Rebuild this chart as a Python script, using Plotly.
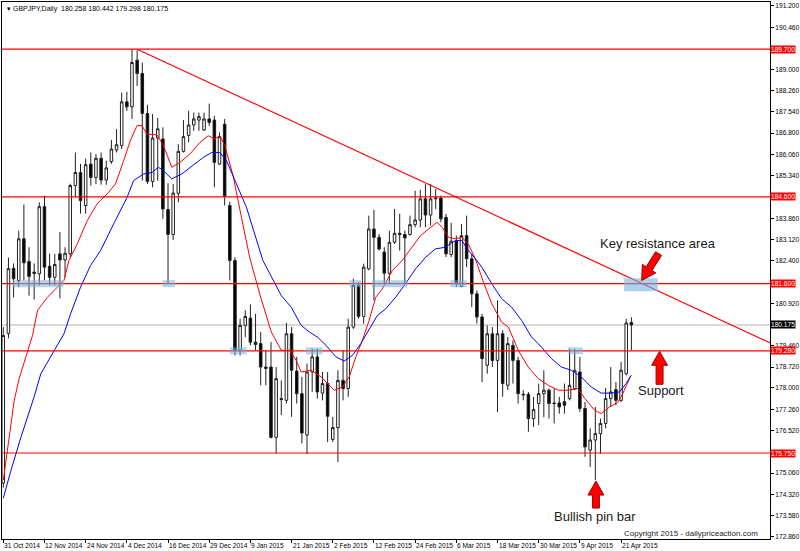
import math
import plotly.graph_objects as go

# ---- candles (one per trading day, 31 Oct 2014 .. 23 Apr 2015) ----
opens = [174.71, 179.88, 182.13, 181.71, 183.15, 182.37, 181.95, 181.94, 184.26, 182.2,
         181.82, 182.63, 182.42, 182.63, 184.99, 185.44, 184.3, 185.73, 185.27, 185.93,
         185.18, 185.82, 186.22, 186.37, 187.88, 187.71, 189.32, 188.86, 187.48, 185.13,
         186.63, 186.6, 184.16, 183.3, 184.72, 186.17, 186.72, 187.08, 187.25, 186.91,
         187.29, 187.25, 185.73, 187.11, 184.3, 182.4, 179.3, 180.16, 180.41, 179.58,
         179.53, 178.72, 178.72, 176.29, 177.63, 177.57, 179.87, 178.58, 177.8, 176.37,
         178.55, 179.07, 177.82, 178.15, 176.22, 176.63, 178.26, 177.98, 180.1, 181.54,
         180.47, 182.11, 183.49, 183.2, 182.69, 181.96, 183.03, 183.34, 183.3, 183.3,
         183.64, 183.8, 184.53, 183.97, 184.53, 184.56, 183.89, 182.61, 183.07, 181.5,
         183.26, 182.46, 181.25, 180.45, 178.78, 179.87, 178.95, 179.87, 178.09, 179.47,
         178.95, 177.78, 177.78, 176.94, 177.46, 177.8, 177.92, 177.48, 177.48, 177.52,
         177.63, 177.97, 178.55, 177.29, 175.85, 176.2, 176.42, 176.77, 177.63, 177.94,
         177.57, 178.49, 180.258]
highs = [180.1, 182.5, 182.3, 183.43, 184.33, 182.86, 182.3, 184.41, 184.64, 182.64,
         182.63, 183.38, 182.86, 185.05, 186.13, 185.74, 185.92, 186.13, 186.08, 186.13,
         185.85, 186.56, 186.94, 188.2, 188.23, 189.7, 189.66, 189.24, 187.78, 187.46,
         187.33, 187.0, 185.07, 185.04, 186.42, 187.25, 187.57, 187.51, 187.51, 187.51,
         187.82, 187.4, 186.82, 187.29, 184.43, 182.51, 180.39, 180.68, 180.88, 180.56,
         179.93, 179.3, 179.58, 178.72, 178.26, 180.24, 180.1, 179.07, 178.38, 178.84,
         179.36, 179.36, 178.55, 178.55, 177.0, 178.61, 179.3, 180.39, 181.77, 181.65,
         182.29, 183.95, 184.15, 183.32, 182.86, 183.43, 184.18, 184.01, 183.43, 183.95,
         184.81, 184.84, 185.04, 185.04, 184.87, 184.64, 184.01, 183.7, 183.26, 183.66,
         183.95, 182.63, 181.37, 180.56, 180.16, 180.1, 181.02, 179.99, 179.76, 179.64,
         179.07, 177.92, 177.86, 177.69, 178.15, 178.61, 177.98, 177.98, 177.69, 178.15,
         179.35, 179.35, 179.07, 177.52, 176.6, 177.34, 176.94, 178.0, 178.72, 178.2,
         178.9, 180.39, 180.442]
lows = [174.55, 179.71, 181.12, 181.48, 181.71, 181.19, 181.05, 181.54, 181.71, 181.54,
        181.54, 181.09, 181.82, 182.51, 184.58, 184.02, 184.02, 184.99, 185.04, 185.02,
        185.02, 185.74, 186.13, 186.25, 187.57, 187.29, 188.43, 185.16, 185.05, 184.93,
        185.16, 183.84, 181.6, 183.11, 184.41, 186.13, 186.48, 186.88, 186.88, 186.88,
        187.05, 184.93, 185.7, 184.3, 181.71, 179.12, 179.12, 179.75, 179.47, 179.3,
        178.09, 178.09, 176.25, 175.74, 177.06, 177.46, 177.0, 177.46, 176.08, 175.71,
        177.86, 177.63, 177.57, 176.13, 176.13, 175.44, 177.57, 177.69, 180.04, 180.4,
        180.22, 182.06, 181.02, 182.74, 181.6, 181.6, 182.97, 182.74, 181.6, 183.26,
        183.55, 183.55, 183.55, 183.61, 184.18, 183.72, 182.52, 182.52, 181.48, 181.48,
        182.17, 180.79, 180.22, 178.2, 178.49, 178.72, 177.17, 177.69, 177.92, 178.15,
        177.46, 177.57, 176.48, 176.65, 176.71, 176.99, 176.94, 176.77, 177.11, 177.11,
        177.57, 177.92, 177.17, 175.62, 175.27, 174.81, 175.73, 176.6, 177.34, 177.4,
        177.51, 178.43, 179.298]
closes = [179.81, 182.12, 181.77, 183.15, 182.32, 181.85, 182.0, 184.26, 182.17, 181.82,
          182.26, 182.42, 182.65, 184.99, 185.44, 184.47, 185.71, 185.27, 185.93, 185.18,
          185.6, 186.25, 186.4, 187.88, 187.71, 189.24, 188.86, 187.48, 185.13, 186.63,
          186.95, 184.18, 183.3, 184.73, 186.17, 186.68, 187.08, 187.29, 187.37, 187.29,
          187.17, 185.79, 186.68, 184.61, 182.4, 179.3, 180.16, 180.47, 179.58, 179.5,
          178.72, 178.67, 176.29, 178.32, 177.6, 179.87, 178.61, 177.8, 176.44, 178.55,
          179.07, 177.86, 178.15, 177.02, 176.63, 178.26, 177.98, 180.1, 181.54, 180.47,
          182.17, 183.49, 183.2, 182.8, 181.96, 183.03, 183.34, 183.3, 183.18, 183.64,
          183.8, 184.53, 183.97, 184.53, 184.56, 183.84, 182.63, 183.07, 181.6, 183.26,
          182.46, 181.25, 180.45, 179.01, 179.87, 178.95, 179.87, 178.15, 179.53, 178.95,
          177.8, 177.76, 176.94, 177.25, 177.8, 177.92, 177.46, 177.46, 177.34, 177.4,
          178.09, 178.61, 177.29, 175.96, 176.2, 176.42, 176.77, 177.63, 177.86, 177.57,
          178.61, 180.24, 180.175]
bars = list(range(len(opens)))

# ---- moving averages (bar position, price) ----
red_ma_x = [0, 0.85, 2.13, 3.09, 4.39, 5.68, 6.65, 8.58, 10.51, 11.79, 12.75, 13.72, 14.38,
            16.31, 18.24, 20.17, 21.78, 23.38, 24.68, 25.97, 26.94, 27.9, 29.84, 31.11, 32.73,
            34.34, 36.27, 38.2, 39.81, 41.1, 42.07, 43.03, 44.64, 46.26, 47.86, 49.8, 52.06,
            53.99, 55.6, 56.89, 57.86, 59.79, 61.72, 63.32, 64.29, 65.89, 67.19, 68.48, 69.76,
            71.05, 72.35, 73.62, 75.56, 77.49, 79.42, 81.04, 82.65, 84.25, 85.22, 86.51, 87.81,
            89.08, 90.38, 91.67, 93.27, 94.88, 96.81, 98.11, 100.04, 101.97, 103.9, 105.83,
            107.77, 109.7, 111.63, 112.93, 114.86, 116.13, 117.76, 119.36, 120.33, 121.93]
red_ma = [174.81, 175.85, 177.57, 178.33, 179.07, 179.81, 180.68, 181.13, 181.48, 181.71,
          182.4, 182.74, 182.98, 183.78, 184.36, 184.7, 185.04, 185.85, 186.54, 187.06,
          187.06, 186.77, 186.74, 186.37, 185.62, 185.79, 186.08, 186.48, 186.71, 186.6,
          186.71, 186.37, 185.33, 183.89, 182.51, 181.25, 179.93, 179.3, 179.3, 178.95,
          178.55, 178.61, 178.38, 178.09, 177.92, 178.03, 178.38, 179.07, 179.64, 180.33,
          181.13, 181.42, 182.05, 182.4, 182.86, 183.26, 183.49, 183.72, 183.55, 183.2,
          183.15, 183.2, 182.95, 182.47, 181.65, 180.91, 180.27, 180.1, 179.3, 178.72,
          178.32, 178.09, 177.92, 177.92, 177.98, 177.64, 177.23, 177.11, 177.34, 177.5,
          177.8, 178.43]
blue_ma_x = [0, 1.49, 3.42, 5.99, 7.29, 9.86, 11.79, 13.08, 15.01, 16.95, 18.88, 21.45, 24.04,
             25.31, 27.25, 28.87, 30.14, 31.11, 32.73, 34.67, 36.91, 38.84, 40.46, 42.07, 43.36,
             45.29, 47.23, 50.43, 52.37, 53.99, 55.92, 57.86, 59.46, 61.06, 62.69, 64.62, 66.22,
             67.83, 69.45, 71.05, 72.66, 74.28, 76.21, 78.14, 80.08, 82.01, 83.94, 85.87, 87.81,
             89.08, 90.38, 91.98, 92.95, 94.88, 96.81, 98.74, 100.68, 102.61, 104.54, 106.47,
             108.4, 110.33, 112.27, 114.2, 116.13, 118.07, 119.69, 120.97, 121.93]
blue_ma = [174.19, 175.15, 176.29, 177.69, 178.49, 179.3, 179.87, 180.56, 181.48, 182.23,
           182.74, 183.67, 184.58, 185.16, 185.39, 185.44, 185.62, 185.5, 185.22, 185.39,
           185.68, 185.96, 186.13, 186.13, 185.85, 185.04, 184.24, 182.4, 181.71, 181.19,
           180.79, 180.16, 179.93, 179.75, 179.47, 179.07, 178.93, 179.12, 179.53, 179.99,
           180.5, 180.73, 181.13, 181.6, 182.11, 182.51, 182.8, 182.86, 183.09, 183.09,
           182.74, 182.4, 182.17, 181.6, 181.08, 180.79, 180.33, 179.76, 179.41, 179.01,
           178.72, 178.61, 178.38, 178.03, 177.82, 177.82, 177.86, 178.15, 178.43]

# ---- drawn objects ----
levels = [189.7, 184.6, 181.6, 179.28, 175.75]
last_price = 180.175
trend_x = [26, 149]
trend_y = [189.7, 179.55]
# highlight zones: (bar from, bar to, price low, price high)
zones = [(1.8, 11.7, 181.48, 181.72), (30.9, 33.4, 181.48, 181.72), (44.0, 47.3, 179.16, 179.40),
         (58.8, 62.0, 179.16, 179.40), (67.2, 69.5, 181.48, 181.72), (71.6, 78.5, 181.48, 181.72),
         (86.8, 90.0, 181.48, 181.72), (109.7, 112.6, 179.17, 179.40)]
key_zone = (120.6, 127.1, 181.34, 181.79)

xtick_pos = [0, 8, 16, 24, 32, 40, 48, 56, 64, 72, 80, 88, 96, 104, 112, 120]
xtick_text = ["31 Oct 2014", "12 Nov 2014", "24 Nov 2014", "4 Dec 2014", "16 Dec 2014",
              "29 Dec 2014", "9 Jan 2015", "21 Jan 2015", "2 Feb 2015", "12 Feb 2015",
              "24 Feb 2015", "6 Mar 2015", "18 Mar 2015", "30 Mar 2015", "9 Apr 2015",
              "21 Apr 2015"]
ytick_vals = [191.2, 190.46, 189.0, 188.26, 187.54, 186.8, 186.06, 185.34, 183.86, 183.12,
              182.4, 180.92, 179.46, 178.72, 178.0, 177.26, 176.52, 175.06, 174.32, 173.58,
              172.86]

W, H = 800, 551
ML, MR, MT, MB = 1, 27, 1, 12
PW, PH = W - ML - MR, H - MT - MB
TXT = "Liberation Sans, Arial, sans-serif"
SMALL = dict(family=TXT, size=6.6, color="#000000")


def to_paper(px, py):
    return (px - ML) / PW, 1 - (py - MT) / PH


def block_arrow(x0, y0, x1, y1, shaft=7, head=16, hlen=14):
    # pixel tail (x0,y0) -> tip (x1,y1)
    L = math.hypot(x1 - x0, y1 - y0)
    ux, uy = (x1 - x0) / L, (y1 - y0) / L
    nx, ny = -uy, ux
    bx, by = x1 - ux * hlen, y1 - uy * hlen
    pts = [(x0 + nx * shaft / 2, y0 + ny * shaft / 2), (bx + nx * shaft / 2, by + ny * shaft / 2),
           (bx + nx * head / 2, by + ny * head / 2), (x1, y1),
           (bx - nx * head / 2, by - ny * head / 2), (bx - nx * shaft / 2, by - ny * shaft / 2),
           (x0 - nx * shaft / 2, y0 - ny * shaft / 2)]
    pp = [to_paper(a, b) for a, b in pts]
    path = "M " + " L ".join(f"{a:.5f},{b:.5f}" for a, b in pp) + " Z"
    return dict(type="path", xref="paper", yref="paper", path=path,
                fillcolor="#ff0000", line=dict(color="#a00000", width=1), layer="above")


fig = go.Figure()

fig.add_trace(go.Candlestick(
    x=bars, open=opens, high=highs, low=lows, close=closes,
    increasing=dict(fillcolor="white", line=dict(color="#202020", width=1)),
    decreasing=dict(fillcolor="black", line=dict(color="#202020", width=1)),
    whiskerwidth=0, showlegend=False, hoverinfo="skip",
))
fig.add_trace(go.Scatter(x=red_ma_x, y=red_ma, mode="lines",
                         line=dict(color="#ff0000", width=1), showlegend=False))
fig.add_trace(go.Scatter(x=blue_ma_x, y=blue_ma, mode="lines",
                         line=dict(color="#0000ff", width=1), showlegend=False))

shapes = []
shapes.append(dict(type="line", xref="paper", x0=0, x1=1, y0=last_price, y1=last_price,
                   line=dict(color="#d9d9d9", width=2), layer="below"))
for lv in levels:
    shapes.append(dict(type="line", xref="paper", x0=0, x1=1, y0=lv, y1=lv,
                       line=dict(color="#ff0000", width=1.2), layer="above"))
shapes.append(dict(type="line", x0=trend_x[0], x1=trend_x[1], y0=trend_y[0], y1=trend_y[1],
                   line=dict(color="#ff0000", width=1.2), layer="above"))
for a, b, lo, hi in zones:
    shapes.append(dict(type="rect", x0=a, x1=b, y0=lo, y1=hi, line=dict(width=0),
                       fillcolor="rgba(110,180,225,0.55)", layer="above"))
shapes.append(dict(type="rect", x0=key_zone[0], x1=key_zone[1], y0=key_zone[2], y1=key_zone[3],
                   line=dict(width=0), fillcolor="rgba(110,180,225,0.6)", layer="above"))
shapes.append(block_arrow(661, 253, 644, 280))
shapes.append(block_arrow(662, 384, 662, 351))
shapes.append(block_arrow(598, 508, 598, 481))

ann = []
for p, t in zip(xtick_pos, xtick_text):
    ann.append(dict(x=p, y=0, xref="x", yref="paper", text=t, showarrow=False,
                    xanchor="left", yanchor="top", xshift=-1, yshift=-1, font=SMALL))
for lv in levels:
    ann.append(dict(x=1, y=lv, xref="paper", yref="y", text=f"{lv:.3f}", showarrow=False,
                    xanchor="left", yanchor="middle", bgcolor="#ff0000", borderpad=0,
                    font=dict(family=TXT, size=6.6, color="white")))
ann.append(dict(x=1, y=last_price, xref="paper", yref="y", text=f"{last_price:.3f}",
                showarrow=False, xanchor="left", yanchor="middle", bgcolor="#000000",
                borderpad=0, font=dict(family=TXT, size=6.6, color="white")))
ann.append(dict(x=0.004, y=1, xref="paper", yref="paper",
                text="▾ GBPJPY,Daily  180.258 180.442 179.298 180.175", showarrow=False,
                xanchor="left", yanchor="top", yshift=-1,
                font=dict(family=TXT, size=7, color="#000000")))
annot_font = dict(family=TXT, size=13, color="#1a1a1a")
for (px, py, t) in [(660, 243, "Key resistance area"), (663, 390, "Support"),
                    (597, 516, "Bullish pin bar")]:
    ax, ay = to_paper(px, py)
    ann.append(dict(x=ax, y=ay, xref="paper", yref="paper", text=t, showarrow=False,
                    xanchor="center", yanchor="middle", font=annot_font))
cx, cy = to_paper(763, 533)
ann.append(dict(x=cx, y=cy, xref="paper", yref="paper",
                text="Copyright 2015 - dailypriceaction.com", showarrow=False,
                xanchor="right", yanchor="middle",
                font=dict(family=TXT, size=8, color="#1a1a1a")))

fig.update_layout(
    width=W, height=H,
    margin=dict(l=ML, r=MR, t=MT, b=MB),
    paper_bgcolor="white", plot_bgcolor="white",
    showlegend=False,
    shapes=shapes, annotations=ann,
    xaxis=dict(range=[-0.25, 148.93], tickvals=xtick_pos, showticklabels=False,
               ticks="outside", ticklen=3, tickcolor="#000000", showgrid=False,
               zeroline=False, showline=True, linecolor="#000000", linewidth=1,
               mirror=True, rangeslider=dict(visible=False)),
    yaxis=dict(range=[172.78, 191.33], side="right", tickvals=ytick_vals,
               ticktext=[f"{v:.3f}" for v in ytick_vals], ticks="outside", ticklen=3,
               tickcolor="#000000", showgrid=False, zeroline=False, showline=True,
               linecolor="#000000", linewidth=1, mirror=True, tickfont=SMALL),
)

# the page's default 8px body margin would push the chart out of the window
fig.write_html("out.html", config={"displayModeBar": False},
               post_script="document.body.style.margin='0';")
